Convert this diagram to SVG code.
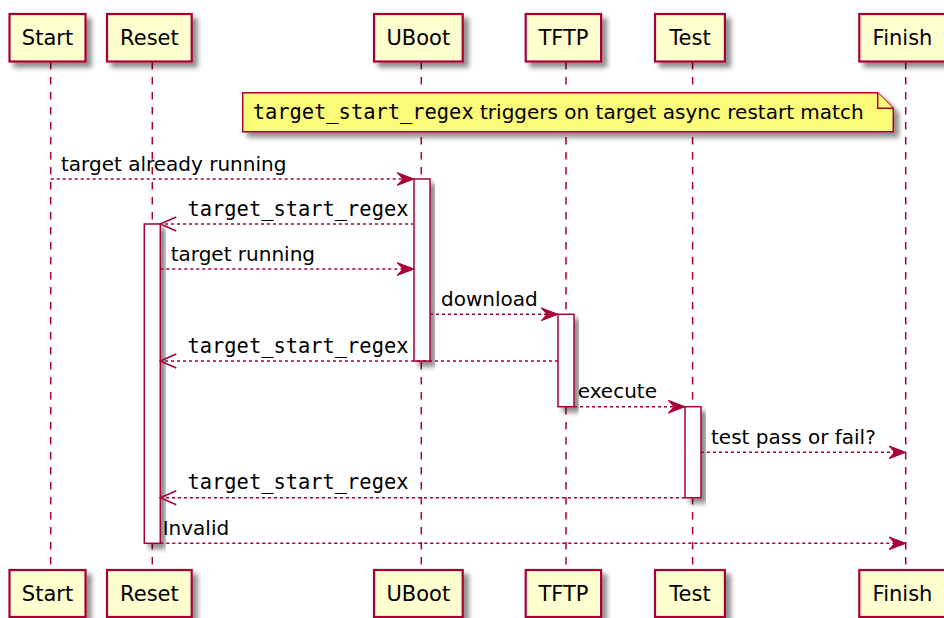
<svg xmlns="http://www.w3.org/2000/svg" width="944" height="618" viewBox="0 0 944 618">
<defs>
<filter id="sh" x="-20%" y="-20%" width="150%" height="150%">
<feGaussianBlur in="SourceAlpha" stdDeviation="2.5"/>
<feOffset dx="5" dy="5" result="b"/>
<feComponentTransfer><feFuncA type="linear" slope="0.45"/></feComponentTransfer>
<feMerge><feMergeNode/><feMergeNode in="SourceGraphic"/></feMerge>
</filter>
<marker id="fa" markerUnits="userSpaceOnUse" markerWidth="20" markerHeight="16" refX="17" refY="7" orient="auto">
<polygon points="0,0.5 17,7 0,13.5 6,7" fill="#A80036" stroke="#A80036" stroke-width="1"/>
</marker>
<marker id="oa" markerUnits="userSpaceOnUse" markerWidth="20" markerHeight="18" refX="17" refY="8" orient="auto">
<polyline points="1,1 17,8 1,15" fill="none" stroke="#A80036" stroke-width="1.5"/>
</marker>
</defs>
<style>
.life{stroke:#A80036;stroke-width:1.5;stroke-dasharray:7.5,7.5;fill:none}
.pbox{fill:#FEFECE;stroke:#A80036;stroke-width:2.2;filter:url(#sh)}
.ptxt{font-family:"DejaVu Sans",sans-serif;font-size:21px;fill:#000;text-anchor:middle}
.act{fill:#FFFFFF;stroke:#A80036;stroke-width:1.5;filter:url(#sh)}
.msg{stroke:#A80036;stroke-width:1.5;stroke-dasharray:3,3;fill:none}
.f{marker-end:url(#fa)}
.o{marker-end:url(#oa)}
.mt{font-family:"DejaVu Sans",sans-serif;font-size:20px;fill:#000}
.mono{font-family:"DejaVu Sans Mono",monospace;font-size:20.4px;fill:#000}
.note{fill:#FBFB77;stroke:#A80036;stroke-width:1.5}
</style>
<g id="lifelines">
<line class="life" x1="50.7" y1="62" x2="50.7" y2="570"/>
<line class="life" x1="152.3" y1="62" x2="152.3" y2="570"/>
<line class="life" x1="421.3" y1="62" x2="421.3" y2="570"/>
<line class="life" x1="566" y1="62" x2="566" y2="570"/>
<line class="life" x1="692.6" y1="62" x2="692.6" y2="570"/>
<line class="life" x1="905.7" y1="62" x2="905.7" y2="570"/>
</g>
<g id="Start">
<rect class="pbox" x="9.5" y="14" width="76" height="47.5"/>
<text class="ptxt" x="47.5" y="45">Start</text>
<rect class="pbox" x="9.5" y="570" width="76" height="47"/>
<text class="ptxt" x="47.5" y="601">Start</text>
</g>
<g id="Reset">
<rect class="pbox" x="107" y="14" width="84.7" height="47.5"/>
<text class="ptxt" x="149.4" y="45">Reset</text>
<rect class="pbox" x="107" y="570" width="84.7" height="47"/>
<text class="ptxt" x="149.4" y="601">Reset</text>
</g>
<g id="UBoot">
<rect class="pbox" x="374" y="14" width="88.7" height="47.5"/>
<text class="ptxt" x="418.3" y="45">UBoot</text>
<rect class="pbox" x="374" y="570" width="88.7" height="47"/>
<text class="ptxt" x="418.3" y="601">UBoot</text>
</g>
<g id="TFTP">
<rect class="pbox" x="525.7" y="14" width="75.4" height="47.5"/>
<text class="ptxt" x="563.4" y="45">TFTP</text>
<rect class="pbox" x="525.7" y="570" width="75.4" height="47"/>
<text class="ptxt" x="563.4" y="601">TFTP</text>
</g>
<g id="Test">
<rect class="pbox" x="655" y="14" width="69.9" height="47.5"/>
<text class="ptxt" x="690" y="45">Test</text>
<rect class="pbox" x="655" y="570" width="69.9" height="47"/>
<text class="ptxt" x="690" y="601">Test</text>
</g>
<g id="Finish">
<rect class="pbox" x="859.3" y="14" width="86.3" height="47.5"/>
<text class="ptxt" x="902.5" y="45">Finish</text>
<rect class="pbox" x="859.3" y="570" width="86.3" height="47"/>
<text class="ptxt" x="902.5" y="601">Finish</text>
</g>
<g id="note">
<path class="note" d="M242.7,92.7 L877.7,92.7 L893.3,108.3 L893.3,131.7 L242.7,131.7 Z" filter="url(#sh)"/>
<path class="note" d="M877.7,92.7 L877.7,108.3 L893.3,108.3" fill="none"/>
<text x="252.7" y="119"><tspan class="mono">target_start_regex</tspan><tspan class="mt"> triggers on target async restart match</tspan></text>
</g>
<g id="activations">
<rect class="act" x="414" y="179" width="16" height="182"/>
<rect class="act" x="144.3" y="224" width="16" height="319.3"/>
<rect class="act" x="558" y="314.3" width="16" height="92.4"/>
<rect class="act" x="685" y="406.7" width="16" height="91"/>
</g>
<g id="connectors">
<line class="msg f" x1="50.7" y1="179" x2="414" y2="179"/>
<text class="mt" x="61" y="170.5">target already running</text>
<line class="msg o" x1="414" y1="224" x2="160.3" y2="224"/>
<text class="mono" x="187.5" y="215.5">target_start_regex</text>
<line class="msg f" x1="160.3" y1="269" x2="414" y2="269"/>
<text class="mt" x="170.7" y="261">target running</text>
<line class="msg f" x1="430" y1="314.3" x2="558" y2="314.3"/>
<text class="mt" x="441" y="306">download</text>
<line class="msg o" x1="558" y1="361" x2="160.3" y2="361"/>
<text class="mono" x="187.5" y="352.5">target_start_regex</text>
<line class="msg f" x1="574" y1="406.7" x2="685" y2="406.7"/>
<text class="mt" x="577.7" y="398">execute</text>
<line class="msg f" x1="701" y1="452.3" x2="905.7" y2="452.3"/>
<text class="mt" x="711" y="443.5">test pass or fail?</text>
<line class="msg o" x1="685" y1="497.7" x2="160.3" y2="497.7"/>
<text class="mono" x="187.5" y="489">target_start_regex</text>
<line class="msg f" x1="160.3" y1="543.3" x2="905.7" y2="543.3"/>
<text class="mt" x="162.7" y="535">Invalid</text>
</g>
</svg>
